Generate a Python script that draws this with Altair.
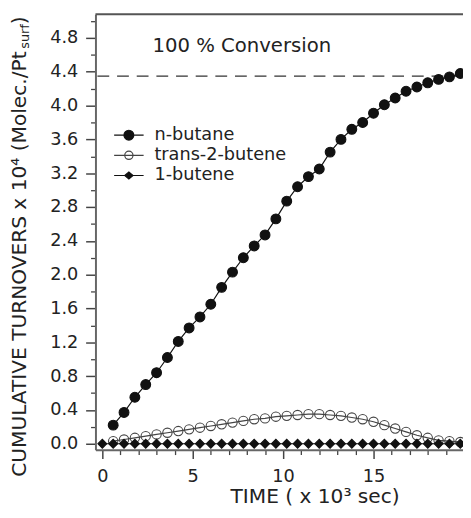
import altair as alt
import pandas as pd

# ---------------- data ----------------
series_names = ["n-butane", "trans-2-butene", "1-butene"]

t_grid = [0.6, 1.2, 1.8, 2.4, 3.0, 3.6, 4.2, 4.8, 5.4, 6.0, 6.6, 7.2, 7.8, 8.4,
          9.0, 9.6, 10.2, 10.8, 11.4, 12.0, 12.6, 13.2, 13.8, 14.4, 15.0, 15.6,
          16.2, 16.8, 17.4, 18.0, 18.6, 19.2, 19.8]

v_nbutane = [0.22, 0.37, 0.55, 0.70, 0.84, 1.02, 1.21, 1.37, 1.50, 1.65, 1.85,
             2.03, 2.20, 2.34, 2.47, 2.66, 2.87, 3.04, 3.16, 3.25, 3.45, 3.60,
             3.72, 3.80, 3.91, 4.01, 4.09, 4.17, 4.22, 4.27, 4.31, 4.34, 4.38]

v_trans = [0.03, 0.05, 0.07, 0.09, 0.11, 0.13, 0.15, 0.17, 0.19, 0.21, 0.23,
           0.25, 0.27, 0.29, 0.30, 0.32, 0.33, 0.34, 0.35, 0.35, 0.34, 0.33,
           0.31, 0.29, 0.26, 0.22, 0.18, 0.14, 0.10, 0.07, 0.04, 0.03, 0.02]

t_1butene = [0.0, 0.6, 1.2, 1.8, 2.4, 3.0, 3.6, 4.2, 4.8, 5.4, 6.0, 6.6, 7.2,
             7.8, 8.4, 9.0, 9.6, 10.2, 10.8, 11.4, 12.0, 12.6, 13.2, 13.8, 14.4,
             15.0, 15.6, 16.2, 16.8, 17.4, 18.0, 18.6, 19.2, 19.8]
v_1butene = [0.0, 0.0, 0.0, 0.0, 0.0, 0.0, 0.0, 0.0, 0.0, 0.0, 0.0, 0.0, 0.0,
             0.0, 0.0, 0.0, 0.0, 0.0, 0.0, 0.0, 0.0, 0.0, 0.0, 0.0, 0.0, 0.0,
             0.0, 0.0, 0.0, 0.0, 0.0, 0.0, 0.0, 0.0]

y_major_ticks = [0.0, 0.4, 0.8, 1.2, 1.6, 2.0, 2.4, 2.8, 3.2, 3.6, 4.0, 4.4, 4.8]
y_minor_ticks = [0.2, 0.6, 1.0, 1.4, 1.8, 2.2, 2.6, 3.0, 3.4, 3.8, 4.2, 4.6, 5.0]
x_major_ticks = [0, 5, 10, 15]
x_minor_ticks = [1, 2, 3, 4, 6, 7, 8, 9, 11, 12, 13, 14, 16, 17, 18, 19]

conversion_level = [4.35]
annotation = {"x": [2.77], "y": [4.70], "label": ["100 % Conversion"]}

# ---------------- tables ----------------
df = pd.concat([
    pd.DataFrame({"t": t_grid, "v": v_nbutane, "series": series_names[0]}),
    pd.DataFrame({"t": t_grid, "v": v_trans, "series": series_names[1]}),
    pd.DataFrame({"t": t_1butene, "v": v_1butene, "series": series_names[2]}),
], ignore_index=True)

FONT = "DejaVu Sans"
TXT = "#222222"
W, H = 374, 443
x_dom = [-0.38, 19.95]
y_dom = [-0.07, 5.08]

x_scale = alt.Scale(domain=x_dom, nice=False, zero=False)
y_scale = alt.Scale(domain=y_dom, nice=False, zero=False)

stroke_range = ["#111111", "#444444", "#111111"]
fill_range = ["#111111", "transparent", "#111111"]

# connecting lines + minor tick axes
lines = alt.Chart(df).mark_line(strokeWidth=1.2).encode(
    x=alt.X("t:Q", scale=x_scale,
            axis=alt.Axis(values=x_minor_ticks, orient="bottom", labels=False,
                          domain=False, grid=False, tickSize=5, tickWidth=1.3,
                          tickColor="#444444", title=None)),
    y=alt.Y("v:Q", scale=y_scale,
            axis=alt.Axis(values=y_minor_ticks, orient="left", labels=False,
                          domain=False, grid=False, tickSize=5, tickWidth=1.3,
                          tickColor="#444444", title=None)),
    detail="series:N",
    stroke=alt.Stroke("series:N", scale=alt.Scale(domain=series_names, range=stroke_range), legend=None),
)

markers = alt.Chart(df).mark_point(opacity=1, strokeWidth=1.1).encode(
    x=alt.X("t:Q", scale=x_scale,
            axis=alt.Axis(values=x_major_ticks, orient="bottom", format="d",
                          grid=False, tickSize=9, tickWidth=1.5, tickColor="#444444",
                          domainColor="#666666", domainWidth=2,
                          labelFont=FONT, labelFontSize=18, labelColor=TXT, labelPadding=9,
                          title="TIME ( x 10³ sec)", titleFont=FONT, titleFontSize=20.5,
                          titleFontWeight="normal", titleColor=TXT,
                          titleX=223, titleY=48, titleBaseline="middle", titleAlign="center")),
    y=alt.Y("v:Q", scale=y_scale,
            axis=alt.Axis(values=y_major_ticks, orient="left", format=".1f",
                          grid=False, tickSize=10, tickWidth=1.5, tickColor="#444444",
                          domainColor="#666666", domainWidth=2,
                          labelFont=FONT, labelFontSize=18, labelColor=TXT, labelPadding=8,
                          title="CUMULATIVE TURNOVERS x 10⁴ (Molec./Pt",
                          titleFont=FONT, titleFontSize=20.5, titleFontWeight="normal",
                          titleColor=TXT, titleAngle=270, titleX=-77, titleY=470,
                          titleAlign="left", titleBaseline="middle")),
    shape=alt.Shape("series:N", scale=alt.Scale(domain=series_names, range=["circle", "circle", "diamond"]), legend=None),
    fill=alt.Fill("series:N", scale=alt.Scale(domain=series_names, range=fill_range), legend=None),
    stroke=alt.Stroke("series:N", scale=alt.Scale(domain=series_names, range=stroke_range), legend=None),
    size=alt.Size("series:O", scale=alt.Scale(domain=series_names, range=[100, 80, 110]), legend=None),
)

# legend (symbols: line + marker)
legend_paths = [
    "M-1.5,0L1.5,0M-0.5,0A0.5,0.5,0,1,1,0.5,0A0.5,0.5,0,1,1,-0.5,0Z",
    "M-1.5,0L1.5,0M-0.42,0A0.42,0.42,0,1,1,0.42,0A0.42,0.42,0,1,1,-0.42,0Z",
    "M-1.5,0L1.5,0M-0.42,0L0,-0.36L0.42,0L0,0.36Z",
]
leg = dict(orient="none", legendX=23, legendY=112, padding=0, rowPadding=0.5,
           labelOffset=15, symbolSize=400, symbolStrokeWidth=1.2,
           labelFont=FONT, labelFontSize=18, labelColor=TXT, title=None)
legend_layer = alt.Chart(df).transform_filter("false").mark_point(opacity=1).encode(
    shape=alt.Shape("series:N", scale=alt.Scale(domain=series_names, range=legend_paths), legend=alt.Legend(**leg)),
    fill=alt.Fill("series:N", scale=alt.Scale(domain=series_names, range=fill_range), legend=alt.Legend(**leg)),
    stroke=alt.Stroke("series:N", scale=alt.Scale(domain=series_names, range=stroke_range), legend=alt.Legend(**leg)),
)

dashed = alt.Chart(pd.DataFrame({"level": conversion_level})).mark_rule(
    strokeDash=[12, 8], color="#333333", strokeWidth=1.3
).encode(y=alt.Y("level:Q", scale=y_scale, axis=None))

top_border = alt.Chart(pd.DataFrame({"top": [y_dom[1]]})).mark_rule(
    color="#555555", strokeWidth=2
).encode(y=alt.Y("top:Q", scale=y_scale, axis=None))

note = alt.Chart(pd.DataFrame(annotation)).mark_text(
    align="left", baseline="middle", font=FONT, fontSize=20, color=TXT
).encode(
    x=alt.X("x:Q", scale=x_scale, axis=None),
    y=alt.Y("y:Q", scale=y_scale, axis=None),
    text="label:N",
)

# subscript part of the y title
y_sub = alt.Chart(pd.DataFrame({"s": ["surf"]})).mark_text(
    angle=270, align="left", baseline="middle", font=FONT, fontSize=13, color=TXT
).encode(text="s:N", x=alt.value(-72), y=alt.value(35))
y_close = alt.Chart(pd.DataFrame({"s": [")"]})).mark_text(
    angle=270, align="left", baseline="middle", font=FONT, fontSize=20.5, color=TXT
).encode(text="s:N", x=alt.value(-77), y=alt.value(10))

chart = alt.layer(
    top_border, dashed, lines, markers, legend_layer, note, y_sub, y_close
).resolve_scale(
    shape="independent", fill="independent", stroke="independent", size="independent"
).resolve_axis(
    x="independent", y="independent"
).properties(
    width=W, height=H,
    padding={"left": 89, "top": 2, "right": 0, "bottom": 58},
    autosize=alt.AutoSizeParams(type="none"),
    background="white",
).configure_view(stroke=None)

chart.save("out.html", embed_options={"renderer": "svg", "actions": False})
